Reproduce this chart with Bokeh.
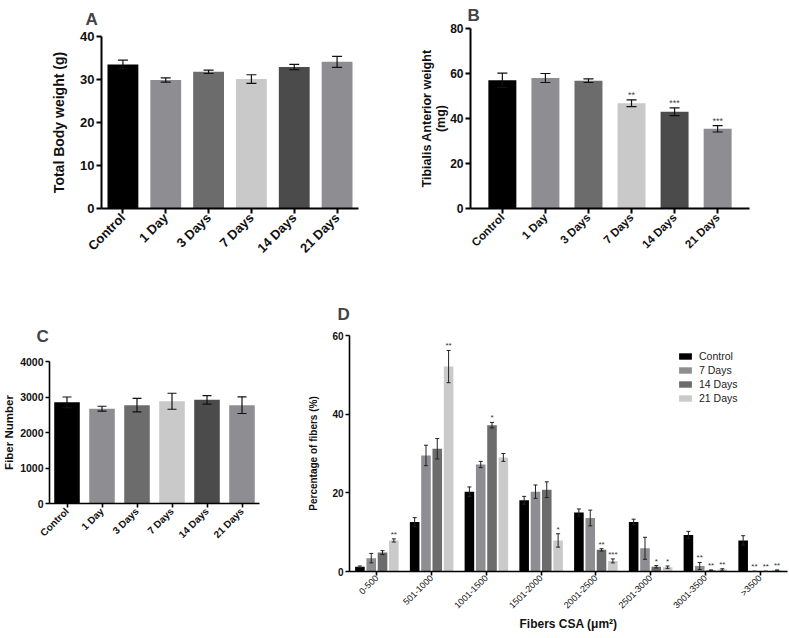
import math
from bokeh.plotting import figure
from bokeh.models import FactorRange, Range1d, FixedTicker, Whisker, ColumnDataSource
from bokeh.layouts import column, row
from bokeh.transform import dodge
from bokeh.core.properties import value
from bokeh.embed import file_html
from bokeh.resources import INLINE

FONT = "Liberation Sans"

# ---------------- data ----------------
groups = ["Control", "1 Day", "3 Days", "7 Days", "14 Days", "21 Days"]
group_colors = ["#000000", "#8e8e92", "#6c6c6c", "#c9c9c9", "#4b4b4b", "#8e8e92"]

body_weight = [33.5, 29.9, 31.8, 30.1, 32.9, 34.1]
body_weight_err = [1.0, 0.5, 0.4, 1.0, 0.6, 1.3]

ta_weight = [57.0, 58.0, 56.8, 46.8, 43.0, 35.4]
ta_weight_err = [3.2, 2.0, 0.8, 1.5, 1.7, 1.4]
ta_stars = ["", "", "", "**", "***", "***"]

fiber_number = [2850, 2670, 2770, 2880, 2920, 2770]
fiber_number_err = [150, 70, 190, 225, 120, 235]

csa_bins = ["0-500", "501-1000", "1001-1500", "1501-2000", "2001-2500",
            "2501-3000", "3001-3500", ">3500"]
series_names = ["Control", "7 Days", "14 Days", "21 Days"]
series_colors = ["#000000", "#8e8e92", "#6c6c6c", "#cacaca"]

control_pct = [1.2, 12.6, 20.3, 18.1, 15.0, 12.6, 9.3, 7.9]
control_err = [0.2, 1.1, 1.2, 1.0, 0.9, 0.7, 0.9, 1.2]
control_stars = ["", "", "", "", "", "", "", ""]

d7_pct = [3.4, 29.5, 27.2, 20.3, 13.6, 5.9, 1.4, 0.05]
d7_err = [1.2, 2.6, 0.8, 1.7, 2.0, 2.8, 0.9, 0.05]
d7_stars = ["", "", "", "", "", "", "**", "**"]

d14_pct = [4.8, 31.2, 37.2, 20.8, 5.5, 1.2, 0.3, 0.05]
d14_err = [0.5, 2.6, 0.7, 2.0, 0.3, 0.3, 0.1, 0.05]
d14_stars = ["", "", "*", "", "**", "*", "**", "**"]

d21_pct = [7.9, 52.1, 29.0, 7.9, 2.7, 1.1, 0.5, 0.3]
d21_err = [0.4, 4.1, 1.0, 1.7, 0.5, 0.3, 0.2, 0.1]
d21_stars = ["**", "**", "", "*", "***", "*", "**", "**"]


def style(p, tick_size_x, tick_size_y, bold_x=True, axis_w=2, tick_out=5):
    p.xgrid.visible = False
    p.ygrid.visible = False
    p.outline_line_color = None
    p.background_fill_color = "white"
    p.border_fill_color = "white"
    for ax in p.axis:
        ax.axis_line_width = axis_w
        ax.axis_line_color = "black"
        ax.major_tick_line_width = axis_w
        ax.major_tick_line_color = "black"
        ax.major_tick_out = tick_out
        ax.major_tick_in = 0
        ax.minor_tick_line_color = None
        ax.major_label_text_font = FONT
        ax.major_label_text_color = "#111111"
        ax.axis_label_text_font = FONT
        ax.axis_label_text_font_style = "bold"
        ax.axis_label_text_color = "#111111"
        ax.major_label_standoff = 2
    p.xaxis.major_label_text_font_size = tick_size_x
    p.xaxis.major_label_text_font_style = "bold" if bold_x else "normal"
    p.yaxis.major_label_text_font_size = tick_size_y
    p.yaxis.major_label_text_font_style = "bold"
    p.xaxis.major_label_orientation = math.pi / 4
    p.title.text_font = FONT
    p.title.text_font_style = "bold"
    p.title.text_font_size = "17px"
    p.title.align = "left"


def simple_bars(p, vals, errs, width, head, stars=None, star_size="9px"):
    src = ColumnDataSource(dict(
        x=groups, top=vals, color=group_colors,
        upper=[v + e for v, e in zip(vals, errs)],
        lower=[v - e for v, e in zip(vals, errs)],
        star=stars if stars else [""] * len(groups)))
    p.vbar(x="x", top="top", width=width, source=src, fill_color="color", line_color=None)
    w = Whisker(base="x", upper="upper", lower="lower", source=src,
                line_color="#111111", line_width=1.2, level="annotation")
    for h in (w.upper_head, w.lower_head):
        h.size = head
        h.line_color = "#111111"
        h.line_width = 1.2
    p.add_layout(w)
    if stars:
        p.text(x="x", y="upper", text="star", source=src, text_font=value(FONT),
               text_font_size=star_size, text_align="center", text_baseline="bottom",
               y_offset=0, text_color="#444444")


# ---------------- A ----------------
pA = figure(x_range=FactorRange(*groups), y_range=Range1d(0, 40), title="A",
            width=400, height=290, min_border_left=101, min_border_right=42,
            min_border_top=35, min_border_bottom=82, frame_align=False,
            output_backend="svg", toolbar_location=None)
simple_bars(pA, body_weight, body_weight_err, 0.72, 10)
style(pA, "13px", "13px")
pA.yaxis.ticker = FixedTicker(ticks=[0, 10, 20, 30, 40])
pA.yaxis.axis_label = "Total Body weight (g)"
pA.yaxis.axis_label_text_font_size = "14px"
pA.yaxis.axis_label_standoff = 10
pA.title.offset = -16
pA.title.standoff = 15

# ---------------- B ----------------
pB = figure(x_range=FactorRange(*groups, range_padding=0.08), y_range=Range1d(0, 80), title="B",
            width=388, height=290, min_border_left=70, min_border_right=39,
            min_border_top=27, min_border_bottom=82, frame_align=False,
            output_backend="svg", toolbar_location=None)
simple_bars(pB, ta_weight, ta_weight_err, 0.65, 10, stars=ta_stars)
style(pB, "11.5px", "12px")
pB.yaxis.ticker = FixedTicker(ticks=[0, 20, 40, 60, 80])
pB.yaxis.axis_label = "Tibialis Anterior weight\n(mg)"
pB.yaxis.axis_label_text_font_size = "12.5px"
pB.yaxis.axis_label_text_line_height = 1.0
pB.yaxis.axis_label_standoff = -1
pB.title.offset = -3
pB.title.standoff = 7

# ---------------- C ----------------
pC = figure(x_range=FactorRange(*groups), y_range=Range1d(0, 4000), title="C",
            width=285, height=347, min_border_left=44, min_border_right=26,
            min_border_top=71, min_border_bottom=134, frame_align=False,
            output_backend="svg", toolbar_location=None)
simple_bars(pC, fiber_number, fiber_number_err, 0.73, 9)
style(pC, "10px", "10.5px", axis_w=1.6, tick_out=4)
pC.yaxis.ticker = FixedTicker(ticks=[0, 1000, 2000, 3000, 4000])
pC.yaxis.axis_label = "Fiber Number"
pC.yaxis.axis_label_text_font_size = "11.5px"
pC.yaxis.axis_label_standoff = 2
pC.title.offset = -13
pC.title.standoff = 31

# ---------------- D ----------------
pD = figure(x_range=FactorRange(*csa_bins), y_range=Range1d(0, 60), title="D",
            width=503, height=347, min_border_left=64, min_border_right=1,
            min_border_top=42, min_border_bottom=66, frame_align=False,
            output_backend="svg", toolbar_location=None)
offsets = [-0.31, -0.103, 0.103, 0.31]
all_vals = [control_pct, d7_pct, d14_pct, d21_pct]
all_errs = [control_err, d7_err, d14_err, d21_err]
all_stars = [control_stars, d7_stars, d14_stars, d21_stars]
for name, color, off, vals, errs, stars in zip(series_names, series_colors, offsets,
                                               all_vals, all_errs, all_stars):
    src = ColumnDataSource(dict(
        x=csa_bins, top=vals,
        upper=[v + e for v, e in zip(vals, errs)],
        lower=[max(v - e, 0) for v, e in zip(vals, errs)],
        star=stars))
    xd = dodge("x", off, range=pD.x_range)
    pD.vbar(x=xd, top="top", width=0.175, source=src, fill_color=color,
            line_color=None, legend_label=name)
    w = Whisker(base=xd, upper="upper", lower="lower", source=src,
                line_color="#222222", line_width=1, level="annotation")
    for h in (w.upper_head, w.lower_head):
        h.size = 4
        h.line_color = "#222222"
        h.line_width = 1
    pD.add_layout(w)
    pD.text(x=xd, y="upper", text="star", source=src, text_font=value(FONT),
            text_font_size="8px", text_align="center", text_baseline="bottom",
            y_offset=0, text_color="#333333")
style(pD, "9px", "10px", bold_x=False, axis_w=1.6, tick_out=4)
pD.xaxis.major_label_standoff = 1
pD.yaxis.ticker = FixedTicker(ticks=[0, 20, 40, 60])
pD.yaxis.axis_label = "Percentage of fibers (%)"
pD.yaxis.axis_label_text_font_size = "10px"
pD.yaxis.axis_label_standoff = 10
pD.xaxis.axis_label = "Fibers CSA (\u03bcm\u00b2)"
pD.xaxis.axis_label_text_font_size = "12px"
pD.xaxis.axis_label_standoff = 0
pD.title.offset = -12
pD.title.standoff = 24
lg = pD.legend[0]
lg.location = (328, 166)
lg.padding = 0
lg.spacing = 0
lg.margin = 0
lg.label_height = 14
lg.glyph_height = 8
lg.glyph_width = 16
lg.label_standoff = 6
lg.label_text_font = FONT
lg.label_text_font_size = "10.5px"
lg.label_text_color = "#222222"
lg.border_line_color = None
lg.background_fill_alpha = 0

layout = column(row(pA, pB), row(pC, pD))
open("out.html", "w").write(file_html(layout, INLINE))
